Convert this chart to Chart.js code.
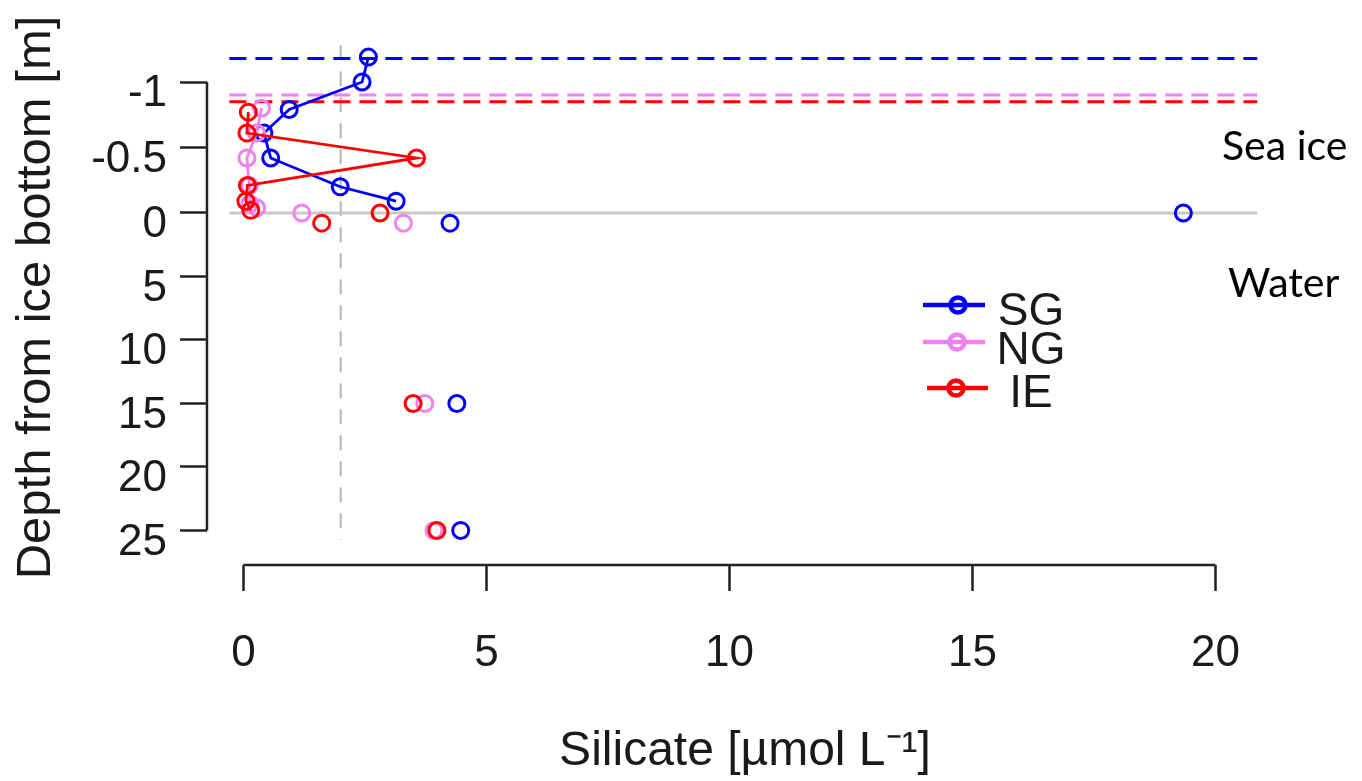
<!DOCTYPE html>
<html>
<head>
<meta charset="utf-8">
<script src="https://cdn.jsdelivr.net/npm/chart.js@4"></script>
<style>
html,body{margin:0;padding:0;background:#fff;}
#wrap{position:relative;width:1362px;height:781px;overflow:hidden;}
#c{position:absolute;left:0;top:0;}
.note{position:absolute;font-family:Lato,'Open Sans',sans-serif;font-size:41px;line-height:1;color:#000;white-space:nowrap;}
.legtxt{position:absolute;width:100px;text-align:center;font-family:'Liberation Sans',Arial,sans-serif;font-size:46px;line-height:1;color:#1a1a1a;white-space:nowrap;}
.legsym{position:absolute;}
</style>
</head>
<body>
<div id="wrap">
<canvas id="c" width="1362" height="781"></canvas>
<div class="note" style="left:1222px;top:124px">Sea ice</div>
<div class="note" style="left:1228px;top:261px">Water</div>
</div>
<script>
// ---------- data ----------
const seriesNames = ['SG', 'NG', 'IE'];
const seriesColors = ['#0000ff', '#ee82ee', '#ff0000'];

// sea-ice samples (depth from ice bottom, negative = inside ice) [m], silicate [umol/L]
const sgIceDepth = [-1.19, -1.00, -0.79, -0.61, -0.42, -0.20, -0.09];
const sgIceSi    = [2.57, 2.44, 0.94, 0.42, 0.56, 1.99, 3.14];
const ngIceDepth = [-0.80, -0.61, -0.42, -0.21, -0.07, -0.04];
const ngIceSi    = [0.37, 0.27, 0.07, 0.12, 0.13, 0.27];
const ieIceDepth = [-0.77, -0.61, -0.42, -0.21, -0.09, -0.02];
const ieIceSi    = [0.10, 0.07, 3.56, 0.08, 0.05, 0.15];

// water samples
const waterDepth = [0, 0.8, 15, 25];
const sgWaterSi  = [19.34, 4.25, 4.39, 4.47];
const ngWaterSi  = [1.20, 3.29, 3.73, 3.92];
const ieWaterSi  = [2.81, 1.61, 3.49, 3.98];

// ice surface (top of ice) for each station [m]
const iceTopDepth = [-1.18, -0.90, -0.85];

// reference lines
const refSilicate = 2;
const hLineSiRange = [-0.29, 20.86];
const vLineDepthRange = [-1.28, 25.75];

// ticks
const xTickValues = [0, 5, 10, 15, 20];
const yTickDepths = [-1, -0.5, 0, 5, 10, 15, 20, 25];
const yTickLabels = ['-1', '-0.5', '0', '5', '10', '15', '20', '25'];

// ---------- piecewise depth axis (ice part stretched) ----------
const ICE_STRETCH = 10.315;
function toY(d) { return d < 0 ? d * ICE_STRETCH : d; }

const iceDepths = [sgIceDepth, ngIceDepth, ieIceDepth];
const iceSi = [sgIceSi, ngIceSi, ieIceSi];
const waterSi = [sgWaterSi, ngWaterSi, ieWaterSi];

const datasets = [];
seriesNames.forEach((name, i) => {
  datasets.push({
    label: name,
    data: iceSi[i].map((x, j) => ({x: x, y: toY(iceDepths[i][j])})),
    showLine: true,
    borderColor: seriesColors[i],
    backgroundColor: 'rgba(0,0,0,0)',
    borderWidth: 2.8,
    pointRadius: 8,
    pointBorderWidth: 3,
    pointBorderColor: seriesColors[i],
    pointBackgroundColor: 'rgba(0,0,0,0)',
    pointStyle: 'circle',
    order: 3 - i
  });
  datasets.push({
    label: name + ' water',
    data: waterSi[i].map((x, j) => ({x: x, y: toY(waterDepth[j])})),
    showLine: false,
    borderColor: seriesColors[i],
    backgroundColor: 'rgba(0,0,0,0)',
    pointRadius: 8,
    pointBorderWidth: 3,
    pointBorderColor: seriesColors[i],
    pointBackgroundColor: 'rgba(0,0,0,0)',
    order: 3 - i
  });
  datasets.push({
    label: name + ' ice top',
    data: hLineSiRange.map(x => ({x: x, y: toY(iceTopDepth[i])})),
    showLine: true,
    borderColor: seriesColors[i],
    borderWidth: 3,
    borderDash: [17, 9],
    pointRadius: 0,
    order: 8 - i
  });
});
datasets.push({
  label: 'ice bottom',
  data: hLineSiRange.map(x => ({x: x, y: toY(0)})),
  showLine: true,
  borderColor: '#c8c8c8',
  borderWidth: 3,
  pointRadius: 0,
  order: 10
});
datasets.push({
  label: 'reference',
  data: vLineDepthRange.map(d => ({x: refSilicate, y: toY(d)})),
  showLine: true,
  borderColor: '#b4b4b4',
  borderWidth: 2,
  borderDash: [15, 11],
  pointRadius: 0,
  order: 11
});

const axisLines = {
  id: 'axisLines',
  afterDraw(chart) {
    const {ctx, chartArea} = chart;
    const xs = chart.scales.x, ys = chart.scales.y;
    ctx.save();
    ctx.strokeStyle = '#222';
    ctx.lineWidth = 2.5;
    ctx.beginPath();
    ctx.moveTo(chartArea.left, ys.getPixelForValue(toY(yTickDepths[0])));
    ctx.lineTo(chartArea.left, ys.getPixelForValue(toY(yTickDepths[yTickDepths.length - 1])));
    ctx.moveTo(xs.getPixelForValue(xTickValues[0]), chartArea.bottom);
    ctx.lineTo(xs.getPixelForValue(xTickValues[xTickValues.length - 1]), chartArea.bottom);
    ctx.stroke();
    ctx.restore();
  }
};

new Chart(document.getElementById('c'), {
  type: 'scatter',
  data: {datasets: datasets},
  options: {
    responsive: false,
    animation: false,
    devicePixelRatio: 1,
    layout: {padding: {left: 0, right: 79, top: 30, bottom: 0}},
    plugins: {legend: {display: false}, tooltip: {enabled: false}},
    scales: {
      x: {
        type: 'linear',
        min: -0.751,
        max: 21.39,
        afterFit(s) { s.height = 216; s.paddingLeft = 0; s.paddingRight = 0; },
        afterBuildTicks(s) { s.ticks = xTickValues.map(v => ({value: v})); },
        border: {display: false},
        grid: {drawOnChartArea: false, drawTicks: true, tickLength: 26, tickWidth: 2.5, tickColor: '#222', color: '#222'},
        ticks: {autoSkip: false, maxRotation: 0, padding: 36, color: '#1a1a1a',
                font: {family: "'Liberation Sans', Arial, sans-serif", size: 44},
                callback: (v) => String(v)},
        title: {display: true, text: 'Silicate [µmol L⁻¹]', color: '#1a1a1a',
                font: {family: "'Liberation Sans', Arial, sans-serif", size: 48},
                padding: {top: 0, bottom: 0}}
      },
      y: {
        type: 'linear',
        reverse: true,
        min: -14.41,
        max: 27.72,
        afterFit(s) { s.width = 207; s.paddingTop = 0; s.paddingBottom = 0; },
        afterBuildTicks(s) { s.ticks = yTickDepths.map(d => ({value: toY(d)})); },
        border: {display: false},
        grid: {drawOnChartArea: false, drawTicks: true, tickLength: 27, tickWidth: 2.5, tickColor: '#222', color: '#222'},
        ticks: {autoSkip: false, padding: 13, labelOffset: 12, color: '#1a1a1a',
                font: {family: "'Liberation Sans', Arial, sans-serif", size: 44},
                callback: (v, i) => yTickLabels[i]},
        title: {display: true, text: 'Depth from ice bottom [m]', color: '#1a1a1a',
                font: {family: "'Liberation Sans', Arial, sans-serif", size: 49},
                padding: {top: 7, bottom: 0}}
      }
    }
  },
  plugins: [axisLines]
});

// ---------- legend (HTML) ----------
const wrap = document.getElementById('wrap');
const legSymY = [305, 342, 388];
const legTxtY = [308, 347, 390];
seriesNames.forEach((name, i) => {
  const svgNS = 'http://www.w3.org/2000/svg';
  const svg = document.createElementNS(svgNS, 'svg');
  svg.setAttribute('width', '72'); svg.setAttribute('height', '30');
  svg.setAttribute('class', 'legsym');
  svg.style.left = '920px'; svg.style.top = (legSymY[i] - 15) + 'px';
  const ln = document.createElementNS(svgNS, 'line');
  ln.setAttribute('x1', i === 2 ? '7' : '3'); ln.setAttribute('x2', i === 2 ? '68' : '65');
  ln.setAttribute('y1', '15'); ln.setAttribute('y2', '15');
  ln.setAttribute('stroke', seriesColors[i]); ln.setAttribute('stroke-width', '4.5');
  svg.appendChild(ln);
  const c = document.createElementNS(svgNS, 'circle');
  c.setAttribute('cx', String(38 - i)); c.setAttribute('cy', '15'); c.setAttribute('r', '7.5');
  c.setAttribute('fill', 'none'); c.setAttribute('stroke', seriesColors[i]); c.setAttribute('stroke-width', '4.5');
  svg.appendChild(c);
  wrap.appendChild(svg);
  const t = document.createElement('div');
  t.className = 'legtxt';
  t.style.left = '981px'; t.style.top = (legTxtY[i] - 22) + 'px';
  t.textContent = name;
  wrap.appendChild(t);
});
</script>
</body>
</html>
